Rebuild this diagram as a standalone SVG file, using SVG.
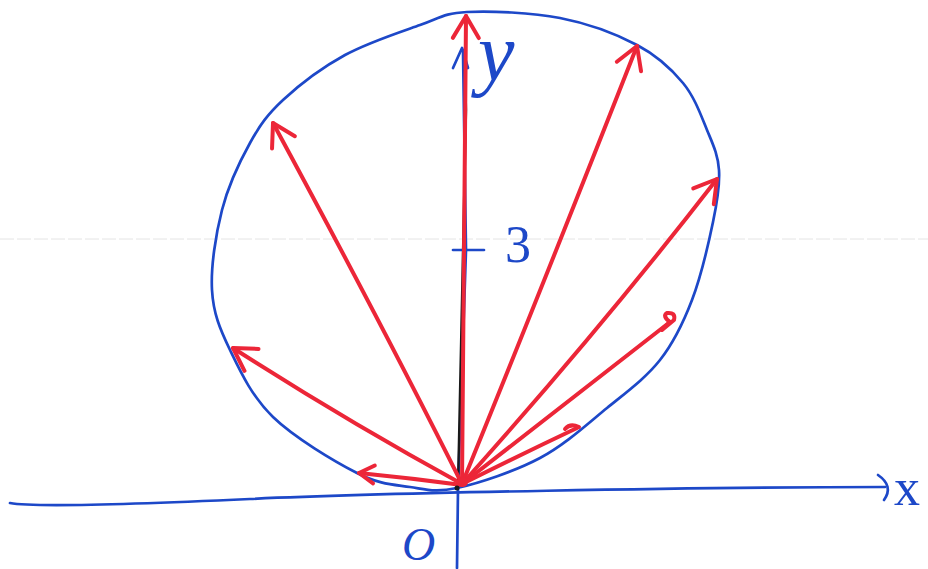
<svg xmlns="http://www.w3.org/2000/svg" width="928" height="569" viewBox="0 0 928 569">
<style>
.blue{fill:none;stroke:#1d48c8;stroke-width:2.7;stroke-linecap:round;stroke-linejoin:round}
.red{fill:none;stroke:#ec2638;stroke-width:4;stroke-linecap:round;stroke-linejoin:round}
.blk{fill:none;stroke:#1a1a1a;stroke-width:2.4;stroke-linecap:round}
.lbl{fill:#1d48c8;font-family:"Liberation Serif","DejaVu Serif",serif}
</style>
<defs>
<marker id="head" markerUnits="userSpaceOnUse" viewBox="-26 -16 30 32" markerWidth="30" markerHeight="32" refX="0" refY="0" orient="auto">
<path d="M-22,-13 L0,0 L-22,13" fill="none" stroke="#ec2638" stroke-width="4" stroke-linecap="round" stroke-linejoin="round"/>
</marker>
<marker id="headS" markerUnits="userSpaceOnUse" viewBox="-20 -12 24 24" markerWidth="24" markerHeight="24" refX="0" refY="0" orient="auto">
<path d="M-15,-9 L0,0 L-15,9" fill="none" stroke="#ec2638" stroke-width="4" stroke-linecap="round" stroke-linejoin="round"/>
</marker>
</defs>
<rect width="928" height="569" fill="#ffffff"/>
<line x1="0" y1="239" x2="928" y2="239" stroke="#e4e4e4" stroke-width="1" stroke-dasharray="14 3"/>

<g id="circle">
<path class="blue" d="M457,488 C478.7,483.2 515,471.3 540,458 C565,444.7 587,424.3 607,408 C627,391.7 645.8,378 660,360 C674.2,342 683.2,323 692,300 C700.8,277 708.5,243.7 713,222 C717.5,200.3 720,185.3 719,170 C718,154.7 713,144.5 707,130 C701,115.5 694.7,97.2 683,83 C671.3,68.8 657.5,55.8 637,45 C616.5,34.2 588.3,23.5 560,18 C531.7,12.5 490.3,10.8 467,12 C443.7,13.2 440.3,17.8 420,25 C399.7,32.2 367.8,42.5 345,55 C322.2,67.5 298.8,85.3 283,100 C267.2,114.7 260.2,124.7 250,143 C239.8,161.3 228.3,185.5 222,210 C215.7,234.5 210.7,266.7 212,290 C213.3,313.3 219.8,328.8 230,350 C240.2,371.2 251.8,396.5 273,417 C294.2,437.5 334.2,461.3 357,473 C379.8,484.7 393.3,484.5 410,487 C426.7,489.5 435.3,492.8 457,488 Z"/>
</g>

<g id="axes">
<path id="x-axis" class="blue" d="M10,503 C30,507 120,505 250,499 S700,487 885,487"/>
<path class="blue" d="M878,475 Q894,486 884,500"/>
<path id="y-axis" class="blue" d="M457,568 L458,490 L466,250 L463,50"/>
<path class="blue" d="M453,68 L462,48 L468,68"/>
<path class="blk" d="M458,486 L462,300 L466,110 L465,70"/>
<line class="blue" x1="453" y1="250" x2="484" y2="250" stroke-width="3"/>
</g>

<g id="vectors">
<path class="red" d="M462,484 L464,250 L466,16" marker-end="url(#head)"/>
<path class="red" d="M462,484 Q545,280 637,46" marker-end="url(#head)"/>
<path class="red" d="M462,484 Q600,330 717,179" marker-end="url(#head)"/>
<path class="red" d="M462,484 Q570,400 670,322"/>
<path class="red" d="M662,330 L670,322 Q662,316 667,313 Q676,312 674,320 Z" stroke-width="3.5"/>
<path class="red" d="M462,484 Q520,455 577,428"/>
<path class="red" d="M565,429 Q570,423 579,427" stroke-width="3.5"/>
<path class="red" d="M462,485 Q410,478 359,473" marker-end="url(#headS)"/>
<path class="red" d="M462,484 Q345,420 233,348" marker-end="url(#head)"/>
<path class="red" d="M462,484 Q385,330 273,123" marker-end="url(#head)"/>
<circle cx="463" cy="482" r="5" fill="#ec2638"/>
<circle cx="457" cy="488" r="2.5" fill="#1a1a1a"/>
</g>

<g id="labels">
<text class="lbl" x="478" y="80" font-size="82" font-style="italic">y</text>
<text class="lbl" x="505" y="262" font-size="52">3</text>
<text class="lbl" x="402" y="560" font-size="46" font-style="italic">O</text>
<text class="lbl" x="894" y="505" font-size="52" font-family="Liberation Sans, sans-serif">x</text>
</g>
</svg>
